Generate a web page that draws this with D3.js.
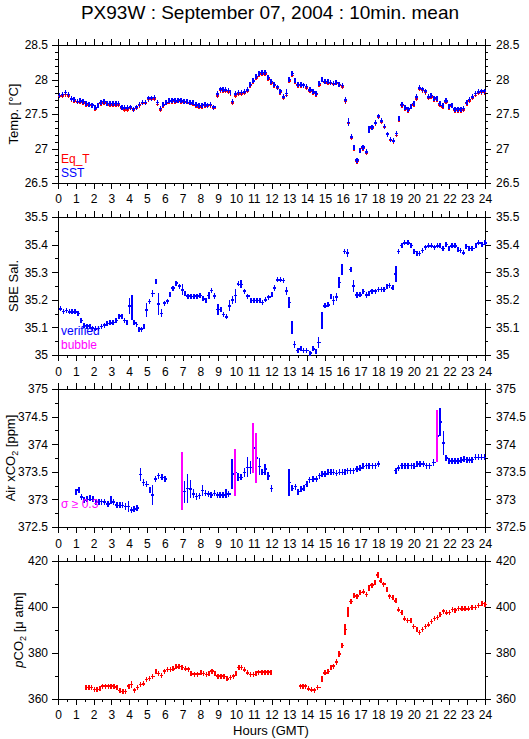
<!DOCTYPE html>
<html><head><meta charset="utf-8">
<script src="https://cdn.jsdelivr.net/npm/d3@7"></script>
<style>
html,body{margin:0;padding:0;background:#fff;}
svg{display:block;font-family:"Liberation Sans",Arial,Helvetica,sans-serif;}
</style></head>
<body>
<svg id="chart" width="529" height="739"></svg>
<script>
// ---------------- DATA ----------------
const title = "PX93W : September 07, 2004 : 10min. mean";
const hourTicks = d3.range(0, 25, 1);
const hourMinorTicks = d3.range(0, 24.01, 0.5);

// [hour, value, sd]
const sst = [[0.0,27.77],[0.17,27.78],[0.33,27.81],[0.5,27.78],[0.67,27.72],[0.83,27.71],[1.0,27.68],[1.17,27.69],[1.33,27.68],[1.5,27.65],[1.67,27.64],[1.83,27.63],[2.0,27.59],[2.17,27.62],[2.33,27.67],[2.5,27.68],[2.67,27.65],[2.83,27.65],[3.0,27.65],[3.17,27.65],[3.33,27.65],[3.5,27.60],[3.67,27.59],[3.83,27.59],[4.0,27.60],[4.17,27.57],[4.33,27.60],[4.5,27.64],[4.67,27.67],[4.83,27.67],[5.0,27.73],[5.17,27.73],[5.33,27.74],[5.5,27.67],[5.67,27.58],[5.83,27.64],[6.0,27.67],[6.17,27.69],[6.33,27.70],[6.5,27.69],[6.67,27.70],[6.83,27.69],[7.0,27.68],[7.17,27.68],[7.33,27.67],[7.5,27.66],[7.67,27.64],[7.83,27.63],[8.0,27.62],[8.17,27.64],[8.33,27.63],[8.5,27.64],[8.67,27.60],[8.9,27.79,0.05],[9.05,27.86],[9.2,27.86],[9.35,27.85],[9.5,27.84],[9.64,27.81],[9.74,27.68],[9.9,27.79],[10.07,27.81],[10.24,27.81],[10.4,27.82],[10.57,27.85],[10.72,27.93],[10.88,27.98],[11.05,28.04],[11.22,28.09],[11.38,28.10],[11.55,28.10],[11.72,28.03],[11.9,27.97],[12.07,27.93],[12.25,27.89],[12.4,27.83],[12.58,27.75],[12.75,27.80,0.06],[12.92,28.00],[13.07,28.09],[13.25,27.98],[13.4,27.93],[13.57,27.93],[13.73,27.92],[13.88,27.90],[14.07,27.85],[14.25,27.82],[14.42,27.80],[14.6,27.94],[14.76,28.00],[14.92,27.97],[15.08,27.97],[15.25,27.96],[15.4,27.94],[15.55,27.96],[15.72,27.93],[15.9,27.91],[16.07,27.70,0.04],[16.24,27.38,0.06],[16.4,27.17],[16.57,27.02,0.02],[16.72,26.83,0.02],[16.9,26.97],[17.05,27.02],[17.25,26.95,0.02],[17.41,27.28,0.05],[17.56,27.31],[17.75,27.37],[17.92,27.47],[18.09,27.40],[18.26,27.32],[18.43,27.21],[18.6,27.13],[18.76,27.11],[18.93,27.22,0.03],[19.1,27.43,0.03],[19.25,27.64],[19.43,27.59],[19.6,27.57],[19.78,27.61],[19.92,27.65],[20.08,27.75,0.04],[20.24,27.88],[20.41,27.86],[20.56,27.83],[20.73,27.75],[20.9,27.77],[21.05,27.73],[21.22,27.73],[21.38,27.65],[21.55,27.62],[21.72,27.69],[21.9,27.61],[22.06,27.63],[22.22,27.57],[22.4,27.57],[22.57,27.57],[22.72,27.58],[22.9,27.67],[23.05,27.71],[23.22,27.75],[23.38,27.80],[23.55,27.82],[23.72,27.83],[23.88,27.83]];

const eqT = [[0.0,27.76],[0.17,27.76],[0.33,27.78],[0.5,27.76],[0.67,27.71],[0.83,27.69],[1.0,27.67],[1.17,27.67],[1.33,27.66],[1.5,27.63],[1.67,27.63],[1.83,27.62],[2.0,27.57],[2.17,27.61],[2.33,27.65],[2.5,27.66],[2.67,27.64],[2.83,27.63],[3.0,27.63],[3.17,27.63],[3.33,27.63],[3.5,27.58],[3.67,27.56],[3.83,27.56],[4.0,27.58],[4.17,27.56],[4.33,27.58],[4.5,27.62],[4.67,27.66],[4.83,27.66],[5.0,27.71],[5.17,27.72],[5.33,27.72],[5.5,27.64],[5.67,27.56],[5.83,27.62],[6.0,27.66],[6.17,27.68],[6.33,27.68],[6.5,27.67],[6.67,27.69],[6.83,27.67],[7.0,27.67],[7.17,27.67],[7.33,27.66],[7.5,27.64],[7.67,27.62],[7.83,27.60],[8.0,27.60],[8.17,27.62],[8.33,27.61],[8.5,27.62],[8.67,27.58],[8.9,27.76],[9.05,27.84],[9.2,27.84],[9.35,27.83],[9.5,27.82],[9.64,27.79],[9.74,27.66],[9.9,27.76],[10.07,27.79],[10.24,27.79],[10.4,27.80],[10.57,27.83],[10.72,27.91],[10.88,27.97],[11.05,28.02],[11.22,28.07],[11.38,28.08],[11.55,28.08],[11.72,28.01],[11.9,27.95],[12.07,27.91],[12.25,27.88],[12.4,27.81],[12.58,27.73],[12.75,27.77],[12.92,27.98],[13.07,28.06],[13.25,27.96],[13.4,27.91],[13.57,27.91],[13.73,27.91],[13.88,27.88],[14.07,27.83],[14.25,27.80],[14.42,27.78],[14.6,27.92],[14.76,27.99],[14.92,27.96],[15.08,27.95],[15.25,27.95],[15.4,27.93],[15.55,27.95],[15.72,27.92],[15.9,27.89],[16.07,27.68],[16.24,27.37],[16.4,27.15],[16.57,27.00],[16.72,26.81],[16.9,26.96],[17.05,27.00],[17.25,26.93],[17.41,27.27],[17.56,27.29],[17.75,27.36],[17.92,27.46],[18.09,27.38],[18.26,27.31],[18.43,27.20],[18.6,27.12],[18.76,27.10],[18.93,27.19],[19.1,27.41],[19.25,27.62],[19.43,27.57],[19.6,27.55],[19.78,27.60],[19.92,27.63],[20.08,27.72],[20.24,27.86],[20.41,27.84],[20.56,27.81],[20.73,27.73],[20.9,27.75],[21.05,27.71],[21.22,27.71],[21.38,27.63],[21.55,27.60],[21.72,27.67],[21.9,27.58],[22.06,27.61],[22.22,27.55],[22.4,27.55],[22.57,27.55],[22.72,27.56],[22.9,27.65],[23.05,27.69],[23.22,27.73],[23.38,27.77],[23.55,27.80],[23.72,27.81],[23.88,27.81]];

const salinity = [[0.05,35.167],[0.22,35.157],[0.4,35.161],[0.56,35.156],[0.72,35.156],[0.88,35.156],[1.05,35.150],[1.22,35.125,0.008],[1.38,35.107],[1.55,35.105],[1.72,35.105],[1.87,35.097],[2.03,35.095],[2.2,35.096],[2.35,35.103],[2.52,35.108],[2.68,35.114],[2.85,35.116],[3.02,35.118],[3.18,35.125],[3.35,35.138],[3.5,35.141],[3.68,35.125],[3.82,35.117,0.008],[3.96,35.178,0.03],[4.1,35.172,0.045],[4.21,35.116],[4.36,35.110],[4.49,35.094],[4.63,35.094],[4.78,35.103,0.008],[4.91,35.163,0.025],[5.06,35.194],[5.24,35.222,0.012],[5.43,35.266],[5.56,35.185,0.04],[5.75,35.151,0.015],[5.9,35.188],[6.09,35.195],[6.24,35.218],[6.37,35.242],[6.55,35.260],[6.74,35.250],[6.93,35.236,0.02],[7.08,35.222],[7.22,35.213],[7.38,35.213],[7.55,35.212],[7.72,35.213],[7.92,35.215],[8.07,35.203],[8.24,35.197],[8.39,35.215,0.012],[8.56,35.234],[8.71,35.214,0.01],[8.9,35.165,0.02],[9.08,35.165],[9.23,35.146],[9.4,35.138],[9.55,35.178,0.02],[9.74,35.200,0.015],[9.89,35.215,0.025],[10.07,35.258],[10.2,35.256,0.015],[10.39,35.231],[10.58,35.213],[10.77,35.197],[10.93,35.197],[11.1,35.197],[11.26,35.197],[11.42,35.190],[11.57,35.200],[11.76,35.210],[11.95,35.218],[12.1,35.243,0.01],[12.25,35.272],[12.42,35.272],[12.6,35.270],[12.75,35.232,0.015],[12.92,35.190,0.02],[13.07,35.100,0.025],[13.22,35.038,0.012],[13.4,35.016],[13.57,35.022],[13.73,35.016],[13.88,35.016],[14.1,35.007],[14.25,35.022],[14.42,35.012],[14.57,35.046,0.02],[14.76,35.125,0.03],[14.91,35.178],[15.1,35.182],[15.26,35.212],[15.41,35.197,0.015],[15.56,35.210,0.015],[15.73,35.263,0.02],[15.88,35.309,0.02],[16.03,35.375,0.01],[16.2,35.369,0.015],[16.38,35.309],[16.53,35.250,0.02],[16.72,35.218,0.012],[16.9,35.218],[17.06,35.230],[17.25,35.218,0.012],[17.41,35.224,0.008],[17.56,35.231],[17.75,35.231],[17.94,35.238],[18.1,35.238],[18.26,35.238],[18.41,35.248],[18.56,35.252],[18.74,35.243],[18.91,35.294,0.03],[19.06,35.375],[19.25,35.397],[19.4,35.406],[19.6,35.406],[19.76,35.397],[19.94,35.375],[20.1,35.369],[20.24,35.367],[20.41,35.379],[20.56,35.391],[20.75,35.395],[20.93,35.395],[21.08,35.391],[21.25,35.395],[21.4,35.395],[21.55,35.385],[21.74,35.400],[21.9,35.385,0.008],[22.06,35.395],[22.24,35.395],[22.4,35.381],[22.56,35.379],[22.71,35.370],[22.86,35.393],[23.03,35.385],[23.2,35.385],[23.41,35.397],[23.56,35.406],[23.75,35.400],[23.93,35.406]];

// [hour, value, sd, flag(1 = sigma >= 0.3)]
const airXCO2 = [[0.94,373.13,0.03],[1.09,373.17,0.06],[1.25,373.04,0.04],[1.4,372.99],[1.55,373.00],[1.72,373.03],[1.87,373.00],[2.06,372.95],[2.21,372.95],[2.38,372.96],[2.53,372.95],[2.72,372.92],[2.9,372.99,0.08],[3.05,372.95,0.06],[3.22,372.90],[3.4,372.89],[3.56,372.89],[3.71,372.87,0.06],[3.88,372.87,0.1],[4.06,372.81],[4.21,372.83],[4.36,372.84],[4.55,373.45,0.12],[4.72,373.31,0.06],[4.9,373.27],[5.09,373.17,0.06],[5.24,373.08,0.18],[5.39,373.37],[5.56,373.43,0.05],[5.75,373.40],[5.94,373.37],[6.89,373.33,0.52,1],[7.02,373.14,0.2],[7.21,373.20,0.26],[7.36,373.19,0.17],[7.53,373.10,0.08],[7.72,373.05,0.06],[7.87,373.07],[8.05,373.16,0.1],[8.2,373.11],[8.37,373.10],[8.52,373.08],[8.71,373.11],[8.9,373.08],[9.05,373.08],[9.18,373.08],[9.36,373.11,0.08],[9.51,373.10],[9.7,373.46,0.27],[9.89,373.49,0.42,1],[10.06,373.40,0.07],[10.2,373.40],[10.39,373.49,0.08],[10.58,373.58,0.18],[10.73,373.58,0.12],[10.9,373.93,0.45,1],[11.05,373.75,0.45,1],[11.24,373.60,0.15],[11.39,373.49],[11.57,373.55,0.1],[11.72,373.42,0.07],[11.91,373.20,0.06],[12.92,373.31,0.24],[13.07,373.20],[13.26,373.23],[13.41,373.14],[13.58,373.19],[13.76,373.20],[13.91,373.27],[14.06,373.36,0.05],[14.25,373.37],[14.44,373.37],[14.61,373.43],[14.76,373.46],[14.94,373.46],[15.1,373.49],[15.26,373.49],[15.41,373.49],[15.56,373.47],[15.73,373.49],[15.9,373.49],[16.07,373.49],[16.2,373.52],[16.37,373.52],[16.53,373.52],[16.72,373.55],[16.9,373.57],[17.06,373.60],[17.25,373.61],[17.41,373.61],[17.58,373.61],[17.75,373.61],[17.94,373.64],[18.91,373.52,0.04],[19.06,373.57],[19.25,373.61],[19.42,373.61],[19.6,373.61],[19.78,373.61],[19.94,373.60],[20.1,373.64],[20.27,373.64],[20.46,373.64],[20.65,373.61],[20.8,373.61],[21.03,373.67,0.06],[21.22,374.15,0.47,1],[21.4,374.40,0.26],[21.59,374.02,0.22],[21.74,373.75,0.05],[21.9,373.70],[22.06,373.70],[22.22,373.70],[22.4,373.70],[22.58,373.71],[22.75,373.73],[22.9,373.72],[23.05,373.71],[23.2,373.72],[23.37,373.76],[23.55,373.76],[23.72,373.76],[23.9,373.76]];

const pCO2 = [[1.5,365.1],[1.67,365.1],[1.82,364.9],[1.97,364.2],[2.12,364.2],[2.28,364.7],[2.43,365.6],[2.6,365.6],[2.75,365.6],[2.9,365.6],[3.07,365.3],[3.25,365.1],[3.4,363.7],[3.56,363.2],[3.72,363.2],[3.9,365.6,0.8],[4.06,366.3,1.5],[4.21,363.9],[4.4,365.1],[4.55,366.3],[4.72,366.6],[4.9,368.5],[5.06,368.9],[5.24,369.8],[5.43,372.0,0.8],[5.56,371.0,0.8],[5.75,370.2],[5.9,372.1],[6.09,372.8],[6.24,372.8],[6.4,373.1],[6.55,374.0],[6.72,374.1],[6.9,373.8,0.5],[7.1,373.1,0.5],[7.25,373.0,0.5],[7.4,370.9],[7.58,370.8],[7.77,370.8],[7.96,371.4],[8.1,371.0],[8.27,370.7],[8.43,371.2],[8.56,372.1],[8.75,371.0],[8.9,369.9],[9.08,369.9],[9.25,369.7],[9.42,368.8],[9.6,369.3],[9.78,369.9],[9.93,371.0,0.7],[10.08,373.6],[10.24,373.6],[10.39,372.7],[10.58,371.4],[10.73,370.7],[10.9,370.7],[11.05,370.9],[11.2,371.7],[11.38,371.7],[11.55,371.7],[11.72,371.7],[11.88,371.7],[13.54,365.6],[13.7,365.6],[13.85,365.6],[14.0,364.4],[14.17,364.0],[14.33,363.9],[14.5,365.1,0.6],[14.76,368.8,1.3],[14.91,371.4],[15.1,372.0],[15.28,373.9],[15.41,374.3],[15.56,376.0,1.2],[15.73,379.6,1.2],[15.88,383.3],[16.07,390.2,2.5],[16.22,397.9,2.2],[16.38,402.5],[16.57,404.9,1.2],[16.72,404.7,0.8],[16.9,406.2],[17.09,406.6],[17.25,405.4],[17.41,408.4,1.3],[17.56,409.5],[17.75,410.5],[17.9,413.9,1.2],[18.07,411.4],[18.22,410.0],[18.41,407.6,1.2],[18.56,404.7,1.0],[18.74,404.1],[18.91,402.7,1.0],[19.06,398.8],[19.25,397.6,1.2],[19.4,394.8],[19.57,394.1],[19.76,394.1],[19.91,391.5,1.0],[20.1,390.3,0.8],[20.24,389.0],[20.41,390.3],[20.56,391.6],[20.75,392.2],[20.9,393.8,0.9],[21.08,395.0],[21.25,395.4],[21.4,396.7],[21.59,398.2],[21.74,397.4],[21.93,397.7],[22.1,398.9],[22.24,398.6],[22.43,399.3],[22.62,399.2],[22.8,399.2],[23.0,399.2],[23.18,399.7],[23.37,399.7],[23.56,400.6],[23.75,401.5],[23.93,401.1]];

const tempTicks = [26.5, 27, 27.5, 28, 28.5];
const salTicks = [35, 35.1, 35.2, 35.3, 35.4, 35.5];
const xco2Ticks = [372.5, 373, 373.5, 374, 374.5, 375];
const pco2Ticks = [360, 380, 400, 420];

// ---------------- LAYOUT ----------------
const svg = d3.select("#chart");
const RED = "#ff0000", BLUE = "#0000ff", MAG = "#ff00ff";
const FONT = 12;
const x = d3.scaleLinear().domain([0, 24]).range([58, 485]);

svg.append("text").attr("x", 270).attr("y", 19).attr("text-anchor", "middle")
  .attr("font-size", 19).text(title);

const panels = [
  {top: 45,  bottom: 183, domain: [26.5, 28.5], ticks: tempTicks, minor: 0.1, topLabels: false, bottomLabels: true},
  {top: 217, bottom: 355, domain: [35, 35.5], ticks: salTicks, minor: 0.05, topLabels: false, bottomLabels: false},
  {top: 389, bottom: 527, domain: [372.5, 375], ticks: xco2Ticks, minor: 0.25, topLabels: true, bottomLabels: false},
  {top: 561, bottom: 699, domain: [360, 420], ticks: pco2Ticks, minor: 10, topLabels: true, bottomLabels: true}
];

const fmt = d => String(+(+d).toFixed(2));

function styleAxis(g) {
  g.select(".domain").remove();
  g.selectAll("line").attr("stroke", "#000").attr("stroke-width", 1).attr("shape-rendering", "crispEdges");
  g.selectAll("text").attr("font-size", FONT).attr("fill", "#000").attr("font-family", "Liberation Sans, Arial, sans-serif");
}

panels.forEach(p => {
  p.y = d3.scaleLinear().domain(p.domain).range([p.bottom, p.top]);
  const minorVals = d3.range(p.domain[0], p.domain[1] + p.minor / 2, p.minor);
  svg.append("rect").attr("x", x(0)).attr("y", p.top).attr("width", x(24) - x(0)).attr("height", p.bottom - p.top)
    .attr("fill", "none").attr("stroke", "#000").attr("stroke-width", 1).attr("shape-rendering", "crispEdges");
  [[d3.axisTop, p.top, p.topLabels], [d3.axisBottom, p.bottom, p.bottomLabels]].forEach(([fn, yy, lab]) => {
    svg.append("g").attr("transform", `translate(0,${yy})`)
      .call(fn(x).tickValues(hourMinorTicks).tickSize(3).tickFormat("").tickSizeOuter(0)).call(styleAxis);
    svg.append("g").attr("transform", `translate(0,${yy})`)
      .call(fn(x).tickValues(hourTicks).tickSize(6).tickPadding(fn === d3.axisTop ? 7 : 5)
        .tickFormat(lab ? d3.format("d") : "").tickSizeOuter(0)).call(styleAxis);
  });
  [[d3.axisLeft, x(0), 4], [d3.axisRight, x(24), 5]].forEach(([fn, xx, pad]) => {
    svg.append("g").attr("transform", `translate(${xx},0)`)
      .call(fn(p.y).tickValues(minorVals).tickSize(3).tickFormat("").tickSizeOuter(0)).call(styleAxis);
    svg.append("g").attr("transform", `translate(${xx},0)`)
      .call(fn(p.y).tickValues(p.ticks).tickSize(6).tickPadding(pad).tickFormat(fmt).tickSizeOuter(0)).call(styleAxis);
  });
});

// ---------------- MARKS ----------------
function drawSeries(panel, data, color, minHalf, sw) {
  const g = svg.append("g").attr("shape-rendering", "crispEdges");
  const segs = data.map((d, i) => {
    const h = d[0], v = d[1], sd = d[2] || 0, flag = d[3] || 0;
    const next = data[i + 1];
    const h1 = (next && next[0] - h <= 0.4) ? next[0] : h + 1 / 6;
    const hm = h + Math.min(1 / 12, (h1 - h) / 2);
    const yv = panel.y(v);
    const half = Math.max(minHalf, Math.abs(panel.y(v + sd) - yv));
    return {h, h1, hm, yv, half, flag};
  });
  g.selectAll("line.h").data(segs).join("line").attr("class", "h")
    .attr("x1", s => x(s.h)).attr("x2", s => x(s.h1)).attr("y1", s => s.yv).attr("y2", s => s.yv)
    .attr("stroke", color).attr("stroke-width", sw);
  const bars = segs.slice().sort((a, b) => a.flag - b.flag);
  g.selectAll("line.v").data(bars).join("line").attr("class", "v")
    .attr("x1", s => x(s.hm)).attr("x2", s => x(s.hm)).attr("y1", s => s.yv - s.half).attr("y2", s => s.yv + s.half)
    .attr("stroke", s => s.flag ? MAG : color).attr("stroke-width", s => s.flag ? 2 : sw);
}

drawSeries(panels[0], eqT, RED, 2, 1.5);
drawSeries(panels[0], sst, BLUE, 2.5, 1.5);
drawSeries(panels[1], salinity, BLUE, 2.5, 1.5);
drawSeries(panels[2], airXCO2, BLUE, 3, 1.5);
drawSeries(panels[3], pCO2, RED, 2.5, 1.5);

// ---------------- LABELS ----------------
function yTitle(cx, cy, parts) {
  const t = svg.append("text").attr("transform", `translate(${cx},${cy}) rotate(-90)`)
    .attr("text-anchor", "middle").attr("dy", "0.35em").attr("font-size", 13);
  parts.forEach(pt => {
    const s = t.append("tspan").text(pt.t);
    if (pt.sub) s.attr("font-size", 9).attr("dy", 3);
    if (pt.after) s.attr("dy", -3);
    if (pt.it) s.attr("font-style", "italic");
  });
}
yTitle(13, 114, [{t: "Temp. [°C]"}]);
yTitle(13, 286, [{t: "SBE Sal."}]);
yTitle(10, 458, [{t: "Air xCO"}, {t: "2", sub: true}, {t: " [ppm]", after: true}]);
yTitle(18, 630, [{t: "p", it: true}, {t: "CO"}, {t: "2", sub: true}, {t: " [μ atm]", after: true}]);

function legend(tx, ty, txt, color) {
  svg.append("text").attr("x", tx).attr("y", ty).attr("font-size", 12).attr("fill", color).text(txt);
}
legend(61, 163, "Eq_T", RED);
legend(61, 177, "SST", BLUE);
legend(61, 335, "verified", BLUE);
legend(61, 349, "bubble", MAG);
legend(61, 508, "σ ≥ 0.3", MAG);

svg.append("text").attr("x", 271).attr("y", 735).attr("text-anchor", "middle").attr("font-size", 13).text("Hours (GMT)");
</script>
</body></html>
